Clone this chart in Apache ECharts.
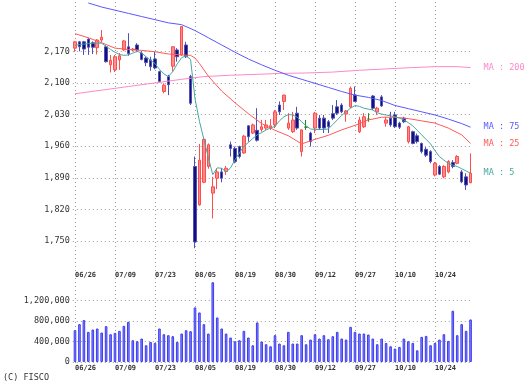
<!DOCTYPE html>
<html><head><meta charset="utf-8">
<script src="https://cdn.jsdelivr.net/npm/echarts@6/dist/echarts.min.js"></script>
<style>html,body{margin:0;padding:0;background:#fff}#c{width:532px;height:384px}</style>
</head><body><div id="c"></div>
<script>
const dates = ['06/26','06/27','06/28','07/01','07/02','07/03','07/04','07/05','07/08','07/09',
'07/10','07/11','07/12','07/16','07/17','07/18','07/19','07/22','07/23','07/24',
'07/25','07/26','07/29','07/30','07/31','08/01','08/02','08/05','08/06','08/07',
'08/08','08/09','08/13','08/14','08/15','08/16','08/19','08/20','08/21','08/22',
'08/23','08/26','08/27','08/28','08/29','08/30','09/02','09/03','09/04','09/05',
'09/06','09/09','09/10','09/11','09/12','09/13','09/17','09/18','09/19','09/20',
'09/24','09/25','09/26','09/27','09/30','10/01','10/02','10/03','10/04','10/07',
'10/08','10/09','10/10','10/11','10/15','10/16','10/17','10/18','10/21','10/22',
'10/23','10/24','10/25','10/28','10/29','10/30','10/31','11/01','11/05','11/06'];

const openP = [2177,2191,2191,2197,2189,2178,2195,2180,2140,2129,
2151,2173,2180,2173,2184,2166,2155,2151,2153,2125,
2081,2114,2137,2173,2162,2184,2114,1915,1830,1880,
1915,1856,1889,1903,1904,1963,1955,1959,1945,2005,
1989,1995,1997,2000,2000,2007,2051,2059,2000,1992,
2033,1948,2002,1989,2000,2022,2022,2014,2032,2047,
2051,2031,2047,2073,1992,2003,2020,2071,2036,2069,
2011,2022,2029,2011,2022,1970,1992,1983,1966,1953,
1948,1896,1915,1892,1903,1924,1922,1903,1892,1879];
const closeP = [2191,2180,2175,2179,2179,2195,2201,2147,2150,2158,
2160,2193,2165,2175,2173,2152,2145,2136,2133,2103,
2095,2096,2180,2158,2225,2158,2055,1748,1929,1975,
1963,1870,1903,1889,1911,1955,1926,1937,1982,1981,
2007,1973,2003,2007,2005,2036,2036,2073,2011,2018,
2000,1996,2002,1970,2033,2000,2000,2003,2022,2033,
2036,2038,2088,2059,2018,2025,2020,2044,2044,2049,
2018,2007,2003,2002,2014,2003,1966,1970,1948,1940,
1926,1922,1898,1915,1926,1915,1937,1881,1874,1900];
const lowP = [2169,2170,2162,2162,2164,2163,2190,2145,2123,2124,
2129,2171,2160,2170,2168,2150,2137,2127,2130,2101,
2077,2073,2125,2147,2160,2155,2051,1734,1828,1878,
1910,1800,1865,1880,1896,1937,1922,1933,1943,1970,
1987,1970,1992,1996,1996,2000,2029,2040,1996,1989,
1996,1937,1996,1959,1989,1996,1989,1989,2018,2029,
2033,2014,2044,2058,1989,2000,2014,2040,2029,2047,
2003,2003,2000,1998,2011,1966,1964,1966,1944,1936,
1922,1893,1896,1889,1900,1911,1920,1878,1863,1878];
const highP = [2193,2193,2193,2199,2192,2197,2217,2183,2162,2162,
2166,2195,2210,2177,2188,2170,2158,2158,2169,2127,
2099,2118,2181,2177,2226,2191,2118,1937,1965,1980,
1966,1892,1911,1911,1916,1970,1959,1961,1985,2006,
2010,2044,2018,2018,2020,2040,2059,2074,2033,2036,
2047,1997,2018,1992,2036,2029,2029,2018,2051,2062,
2055,2040,2092,2092,2025,2033,2033,2073,2047,2073,
2025,2036,2036,2014,2025,2005,1994,1988,1968,1958,
1951,1925,1918,1918,1929,1929,1940,1907,1900,1944];

const volume = [623000,741000,820000,590000,636000,656000,577000,702000,544000,570000,
610000,708000,787000,426000,407000,459000,328000,393000,374000,656000,
544000,525000,505000,393000,557000,623000,603000,1069000,970000,741000,
557000,1561000,872000,656000,557000,479000,407000,426000,610000,479000,
328000,774000,400000,348000,308000,525000,361000,328000,590000,361000,
361000,525000,348000,439000,544000,459000,525000,446000,505000,590000,
459000,439000,688000,590000,557000,557000,538000,459000,348000,459000,
374000,308000,262000,295000,459000,407000,374000,229000,492000,511000,
328000,374000,439000,544000,413000,1003000,525000,741000,610000,833000];

const ma5 = [2183,2185,2186,2187,2188,2188,2188,2181,2174,2168,
2163,2161,2162,2166,2170,2166,2158,2150,2143,2130,
2120,2114,2125,2142,2156,2160,2152,2065,2015,1975,
1935,1897,1912,1911,1903,1912,1930,1945,1960,1968,
1977,1985,1990,1996,2000,2004,2016,2025,2030,2029,
2024,2014,2005,1998,1997,1997,1997,1998,2008,2018,
2028,2036,2044,2050,2048,2044,2042,2040,2034,2031,
2029,2027,2025,2022,2018,2012,2005,1995,1985,1975,
1965,1950,1937,1929,1922,1918,1915,1910,1905,1900];

const ma25Idx = [0,3,6,9,12,15,18,21,24,26,27,28,30,33,36,39,42,45,48,51,54,57,60,63,66,69,72,75,78,81,84,87,89];
const ma25Val = [2209,2200,2189,2177,2174,2172,2169,2164,2162,2161,2155,2143,2115,2082,2056,2032,2010,1995,1983,1965,1975,1984,1996,2006,2018,2024,2024,2021,2016,2011,2000,1985,1966];

const ma75Idx = [3,6,9,12,15,18,21,24,27,30,33,36,39,42,45,48,51,54,57,60,63,66,69,72,75,78,81,84,87,89];
const ma75Val = [2277,2268,2261,2254,2247,2240,2233,2229,2216,2200,2184,2168,2153,2140,2128,2117,2108,2099,2090,2081,2073,2068,2061,2050,2043,2036,2029,2020,2010,2002];

const ma200Idx = [0,6,12,18,24,29,35,41,46,52,58,64,70,76,81,86,89];
const ma200Val = [2076,2084,2092,2100,2108,2114,2117,2119,2121,2122,2124,2128,2131,2134,2136,2136,2134];

const yTicks = {min:1750, max:2170, step:70};
const vTicks = {min:0, max:1200000, step:400000};

const F = 'DejaVu Sans Mono';
const fmt = v => String(v).replace(/\B(?=(\d{3})+(?!\d))/g, ',');
const dotted = {show:true, lineStyle:{color:'#9a9a9a', type:[1,3], width:1}};
const L = 72.78, W = 400;
const pair = (ix, vs) => ix.map((x,k)=>[x, vs[k]]);

const chart = echarts.init(document.getElementById('c'), null, {renderer:'canvas'});
const lineS = (data, color, name) => ({
  type:'line', xAxisIndex:1, yAxisIndex:1, data, symbol:'none', clip:false, silent:true,
  lineStyle:{color, width:1},
  endLabel:{show:true, formatter:name, distance:13, color, fontFamily:F, fontSize:8.5}
});
chart.setOption({
  animation:false,
  grid:[
    {left:75, top:2, width:360, height:364},
    {left:L, top:51.3, width:W, height:189.7},
    {left:L, top:300.7, width:W, height:61.3}
  ],
  xAxis:[
    {gridIndex:0, type:'value', min:0, max:81, interval:9, axisLine:{show:false}, axisTick:{show:false}, axisLabel:{show:false}, splitLine:dotted},
    {gridIndex:1, type:'category', data:dates, boundaryGap:true, axisLine:{show:false}, axisTick:{show:false}, splitLine:{show:false},
      axisLabel:{interval:8, margin:31, align:'left', fontFamily:F, fontSize:7, fontWeight:'bold', color:'#333'}},
    {gridIndex:2, type:'category', data:dates, boundaryGap:true, axisLine:{show:false}, axisTick:{show:false}, splitLine:{show:false},
      axisLabel:{interval:8, margin:3, align:'left', fontFamily:F, fontSize:7, fontWeight:'bold', color:'#333'}}
  ],
  yAxis:[
    {gridIndex:0, type:'value', min:0, max:1, show:false},
    {gridIndex:1, type:'value', min:yTicks.min, max:yTicks.max, interval:yTicks.step, axisLine:{show:false}, axisTick:{show:false}, splitLine:dotted,
      axisLabel:{formatter:fmt, margin:3, fontFamily:F, fontSize:8.5, color:'#333'}},
    {gridIndex:2, type:'value', min:vTicks.min, max:vTicks.max, interval:vTicks.step, axisLine:{show:false}, axisTick:{show:false}, splitLine:dotted,
      axisLabel:{formatter:fmt, margin:3, fontFamily:F, fontSize:8.5, color:'#333'}}
  ],
  series:[
    {type:'bar', xAxisIndex:2, yAxisIndex:2, data:volume, barWidth:2.6, clip:false, silent:true,
      itemStyle:{color:'#8c8cff', borderColor:'#3c3cf0', borderWidth:1}},
    {type:'candlestick', xAxisIndex:1, yAxisIndex:1, barWidth:3, clip:false, silent:true,
      data: dates.map((d,i)=>[openP[i], closeP[i], lowP[i], highP[i]]),
      itemStyle:{color:'#ff8c8c', color0:'#101080', borderColor:'#ff4c4c', borderColor0:'#5050b0', borderColorDoji:'#1a8a1a', borderWidth:1}},
    lineS(pair(ma200Idx, ma200Val), '#ff88c8', 'MA : 200'),
    lineS(pair(ma75Idx, ma75Val), '#5858ff', 'MA : 75'),
    lineS(pair(ma25Idx, ma25Val), '#ff5858', 'MA : 25'),
    lineS(ma5, '#48a8a0', 'MA : 5')
  ],
  graphic:[{type:'text', left:3, top:373, style:{text:'(C) FISCO', font:'8.5px "DejaVu Sans Mono"', fill:'#333'}}]
});
</script></body></html>
